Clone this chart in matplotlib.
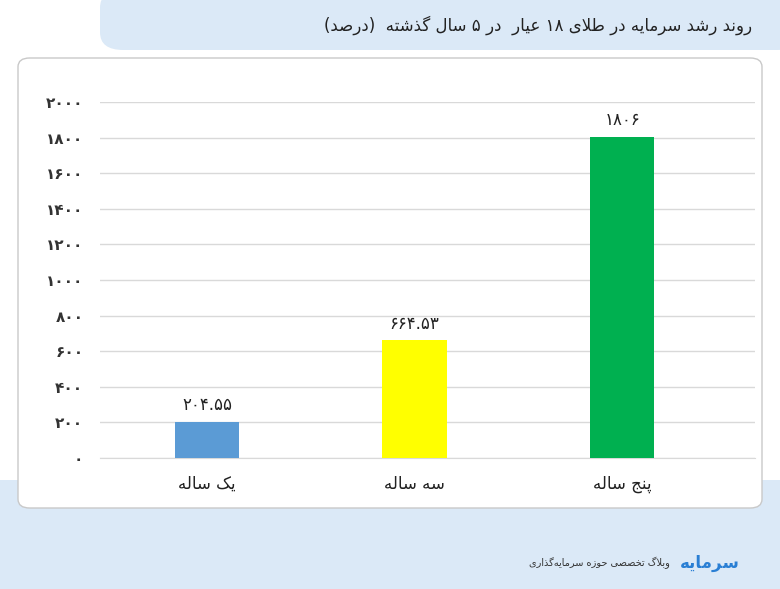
import re
import matplotlib
matplotlib.use("Agg")
import matplotlib.pyplot as plt
from matplotlib.patches import FancyBboxPatch

plt.rcParams['font.family'] = ['DejaVu Sans']

# ---------------------------------------------------------
# DATA
# ---------------------------------------------------------
TITLE = "روند رشد سرمایه در طلای ۱۸ عیار  در ۵ سال گذشته  (درصد)"
CATEGORIES = ["یک ساله", "سه ساله", "پنج ساله"]
VALUES = [204.55, 664.53, 1806]
VALUE_LABELS = ["۲۰۴.۵۵", "۶۶۴.۵۳", "۱۸۰۶"]
BAR_COLORS = ["#5b9bd5", "#ffff00", "#00b050"]
Y_TICKS = list(range(0, 2001, 200))
FOOTER = "وبلاگ تخصصی حوزه سرمایه‌گذاری"
LOGO = "سرمایه"

# ---------------------------------------------------------
# minimal Arabic/Persian shaping (matplotlib does no shaping)
# ---------------------------------------------------------
FORMS = {  # isolated, final, initial, medial
    'ا': (0xFE8D, 0xFE8E, None, None), 'ب': (0xFE8F, 0xFE90, 0xFE91, 0xFE92),
    'ت': (0xFE95, 0xFE96, 0xFE97, 0xFE98), 'ج': (0xFE9D, 0xFE9E, 0xFE9F, 0xFEA0),
    'ح': (0xFEA1, 0xFEA2, 0xFEA3, 0xFEA4), 'خ': (0xFEA5, 0xFEA6, 0xFEA7, 0xFEA8),
    'د': (0xFEA9, 0xFEAA, None, None), 'ذ': (0xFEAB, 0xFEAC, None, None),
    'ر': (0xFEAD, 0xFEAE, None, None), 'ز': (0xFEAF, 0xFEB0, None, None),
    'س': (0xFEB1, 0xFEB2, 0xFEB3, 0xFEB4), 'ش': (0xFEB5, 0xFEB6, 0xFEB7, 0xFEB8),
    'ص': (0xFEB9, 0xFEBA, 0xFEBB, 0xFEBC), 'ط': (0xFEC1, 0xFEC2, 0xFEC3, 0xFEC4),
    'ع': (0xFEC9, 0xFECA, 0xFECB, 0xFECC), 'ف': (0xFED1, 0xFED2, 0xFED3, 0xFED4),
    'ق': (0xFED5, 0xFED6, 0xFED7, 0xFED8), 'ک': (0xFB8E, 0xFB8F, 0xFB90, 0xFB91),
    'گ': (0xFB92, 0xFB93, 0xFB94, 0xFB95), 'ل': (0xFEDD, 0xFEDE, 0xFEDF, 0xFEE0),
    'م': (0xFEE1, 0xFEE2, 0xFEE3, 0xFEE4), 'ن': (0xFEE5, 0xFEE6, 0xFEE7, 0xFEE8),
    'ه': (0xFEE9, 0xFEEA, 0xFEEB, 0xFEEC), 'و': (0xFEED, 0xFEEE, None, None),
    'ی': (0xFBFC, 0xFBFD, 0xFBFE, 0xFBFF), 'پ': (0xFB56, 0xFB57, 0xFB58, 0xFB59),
    'LA': (0xFEFB, 0xFEFC, None, None),
}


def shape(text):
    chars = []
    i = 0
    while i < len(text):
        if text[i] == 'ل' and i + 1 < len(text) and text[i + 1] == 'ا':
            chars.append('LA')
            i += 2
        else:
            chars.append(text[i])
            i += 1
    out = []
    for k, c in enumerate(chars):
        if c not in FORMS:
            out.append(c if c != '\u200c' else '')
            continue
        prev = chars[k - 1] if k > 0 else None
        nxt = chars[k + 1] if k + 1 < len(chars) else None
        join_prev = prev in FORMS and FORMS[prev][2] is not None
        join_next = nxt in FORMS and FORMS[c][2] is not None
        iso, fin, ini, med = FORMS[c]
        if join_prev and join_next:
            cp = med
        elif join_prev:
            cp = fin
        elif join_next:
            cp = ini
        else:
            cp = iso
        out.append(chr(cp))
    s = ''.join(out)[::-1]
    s = s.translate(str.maketrans('()', ')('))
    # keep digit runs left-to-right
    return re.sub(r'[۰-۹.]+', lambda m: m.group(0)[::-1], s)


# ---------------------------------------------------------
# FIGURE
# ---------------------------------------------------------
fig = plt.figure(figsize=(7.8, 5.89), dpi=100, facecolor="white")
W, H = 780, 589


def px(x, y):
    return x / W, 1 - y / H


# header tab and bottom band
fig.patches.append(FancyBboxPatch(px(100, 50), 700 / W, 60 / H, boxstyle="round,pad=0,rounding_size=0.03",
                                  transform=fig.transFigure, facecolor="#dbe9f7", edgecolor="none", zorder=0))
fig.patches.append(plt.Rectangle(px(0, 589), 1, 80 / H, transform=fig.transFigure,
                                 facecolor="#dbe9f7", edgecolor="none", zorder=0))
fig.patches.append(plt.Rectangle(px(0, 510), 1, 30 / H, transform=fig.transFigure,
                                 facecolor="#dbe9f7", edgecolor="none", zorder=0))
fig.patches.append(FancyBboxPatch(px(18, 508), 744 / W, 450 / H, boxstyle="round,pad=0,rounding_size=0.015",
                                  transform=fig.transFigure, facecolor="white", edgecolor="#c9c9c9",
                                  linewidth=1, zorder=1))

fig.text(*px(752, 25), shape(TITLE), ha="right", va="center", fontsize=12, color="#222222")
fig.text(*px(670, 563), shape(FOOTER), ha="right", va="center", fontsize=7, color="#333333")
fig.text(*px(680, 563), shape(LOGO), ha="left", va="center", fontsize=12, color="#2a7fd4",
         fontweight="bold")

ax = fig.add_axes([100 / W, 131 / H, 655 / W, 356 / H], zorder=5)
ax.set_facecolor("none")
x = range(len(CATEGORIES))
bars = ax.bar(x, VALUES, width=0.31, color=BAR_COLORS, zorder=3)
for xi, v, lab in zip(x, VALUES, VALUE_LABELS):
    ax.text(xi, v + 40, lab, ha="center", va="bottom", fontsize=12, color="#222222")

ax.set_xlim(-0.516, 2.64)
ax.set_ylim(0, 2000)
ax.set_yticks(Y_TICKS)
ax.set_yticklabels([shape(str(t).translate(str.maketrans('0123456789', '۰۱۲۳۴۵۶۷۸۹'))) for t in Y_TICKS],
                   fontsize=11, fontweight="bold", color="#333333")
ax.set_xticks(list(x))
ax.set_xticklabels([shape(c) for c in CATEGORIES], fontsize=12, color="#222222")
ax.grid(axis="y", color="#d9d9d9", linewidth=1, zorder=0)
for s in ["top", "right", "left"]:
    ax.spines[s].set_visible(False)
ax.spines["bottom"].set_color("#d9d9d9")
ax.tick_params(length=0, pad=12)

fig.savefig("out.png", dpi=100)
